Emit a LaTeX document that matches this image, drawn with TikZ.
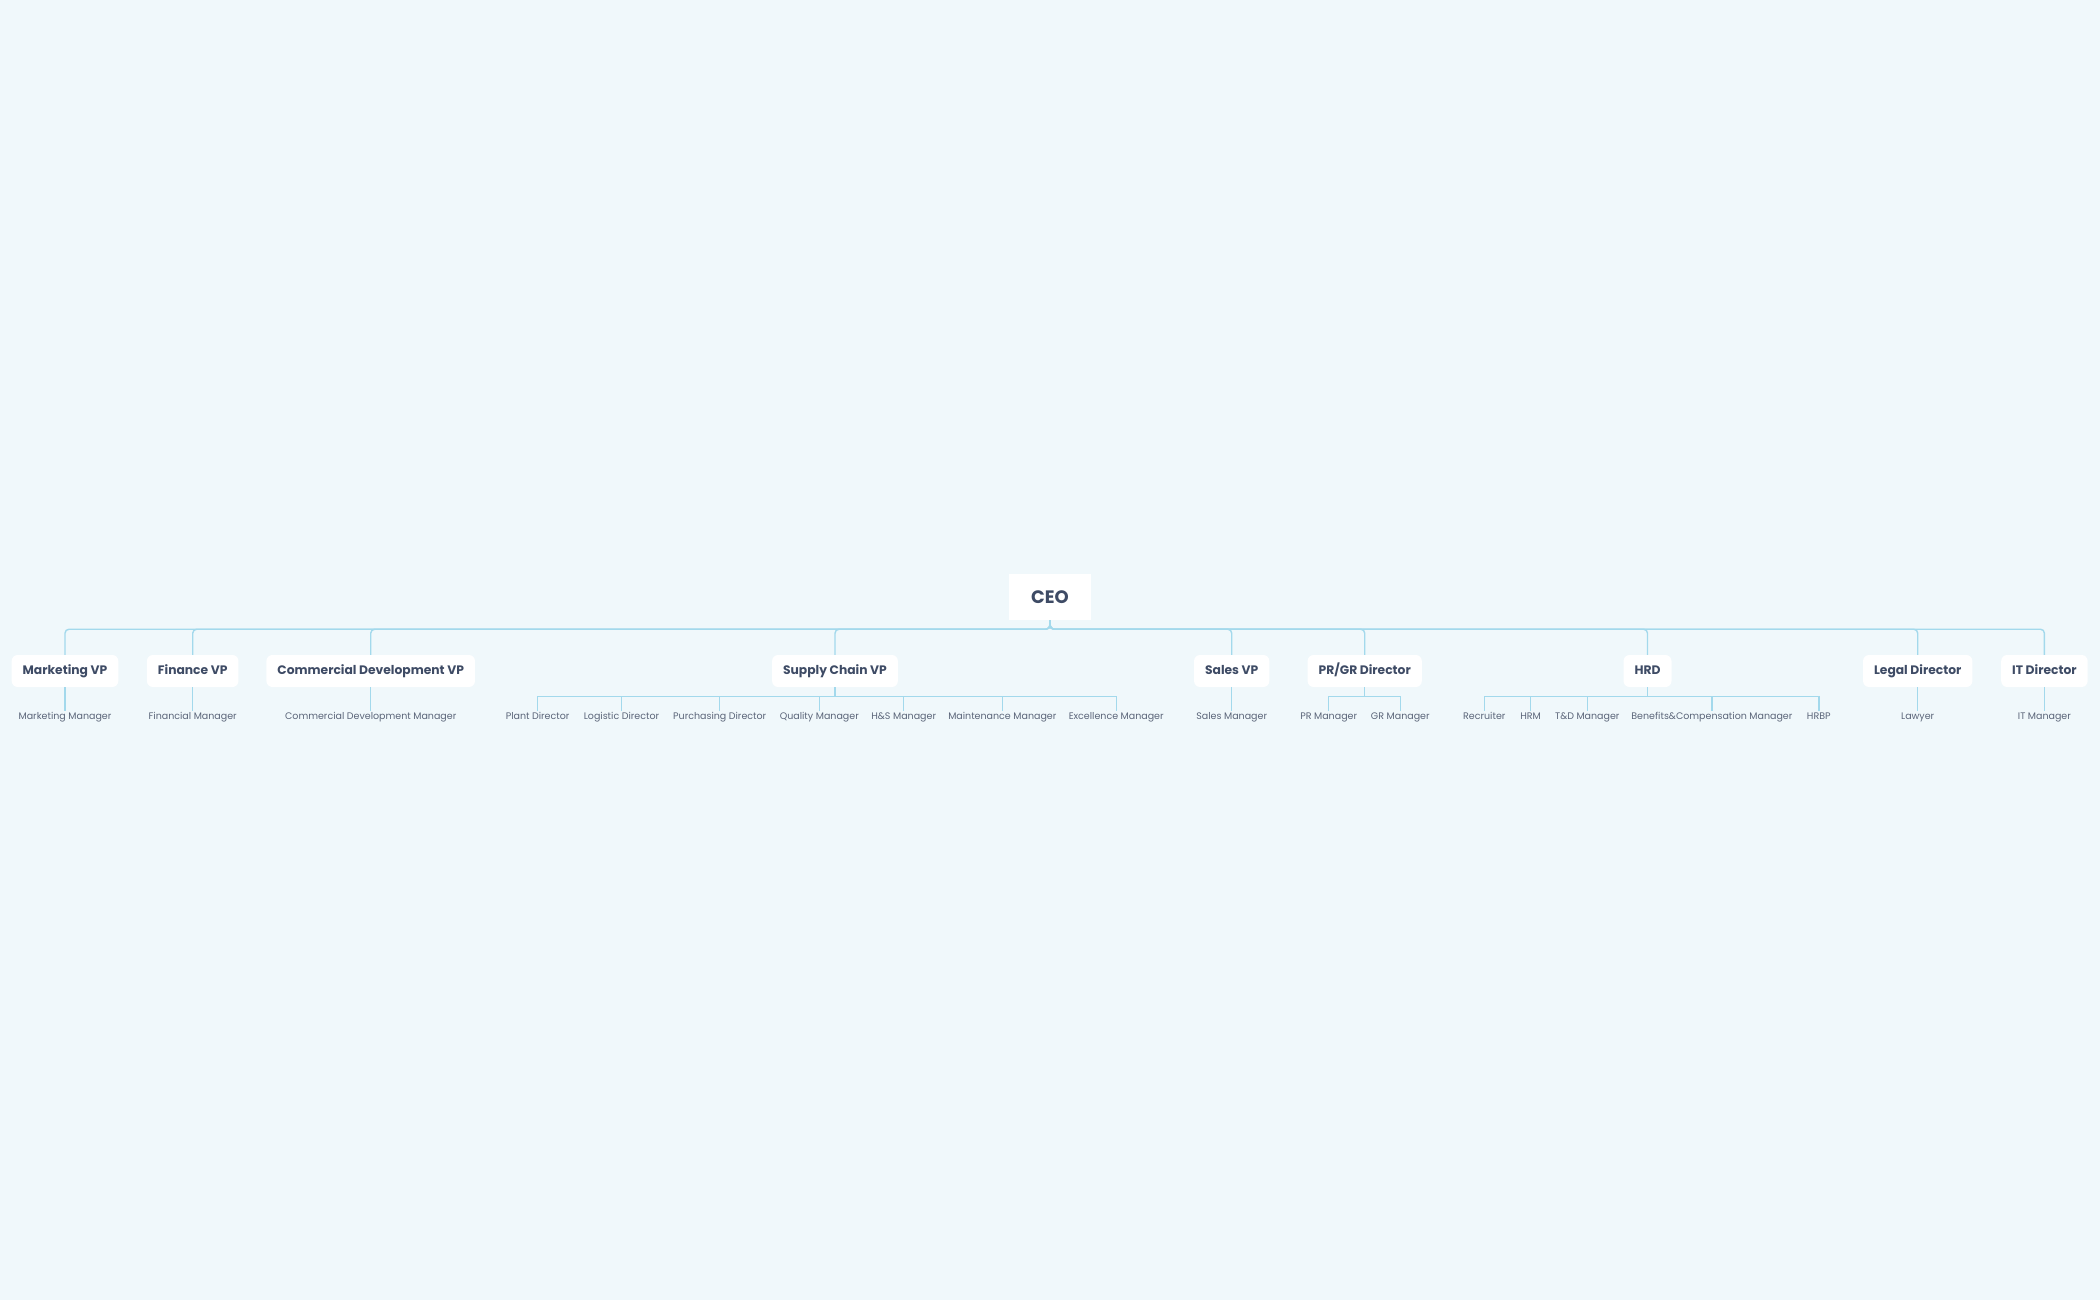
\documentclass[tikz,border=0pt]{standalone}
\usepackage{fontspec}
\setmainfont{Poppins}
\definecolor{bgcol}{HTML}{F0F8FB}
\definecolor{linkcol}{HTML}{A3D9EC}
\definecolor{headtext}{HTML}{3E4B65}
\definecolor{stafftext}{HTML}{5B6579}
\tikzset{
  ceobox/.style={fill=white, text=headtext, font=\fontsize{18}{20}\selectfont\bfseries,
    minimum width=82pt, minimum height=46pt, inner sep=0pt},
  headbox/.style={fill=white, text=headtext, rounded corners=6pt,
    font=\fontsize{12.3}{14}\selectfont\bfseries, text height=9pt, text depth=3pt,
    minimum height=32pt, inner xsep=11pt, inner ysep=0pt},
  staff/.style={text=stafftext, font=\fontsize{9.5}{10}\selectfont,
    text height=7pt, text depth=2pt, inner sep=1.5pt},
  link/.style={draw=linkcol, line width=1.4pt},
}
\begin{document}
\begin{tikzpicture}[x=1pt,y=-1pt]
\fill[bgcol] (0,0) rectangle (2100,1300);
\useasboundingbox (0,0) rectangle (2100,1300);

% top level
\node[ceobox] (ceo) at (1050,597) {CEO};

\node[headbox] (mkt) at (65,671) {Marketing VP};
\node[headbox] (fin) at (192.7,671) {Finance VP};
\node[headbox] (cd) at (370.7,671) {Commercial Development VP};
\node[headbox] (sc) at (835,671) {Supply Chain VP};
\node[headbox] (sales) at (1231.7,671) {Sales VP};
\node[headbox] (prgr) at (1364.7,671) {PR/GR Director};
\node[headbox] (hrd) at (1647.5,671) {HRD};
\node[headbox] (legal) at (1917.7,671) {Legal Director};
\node[headbox] (it) at (2044.4,671) {IT Director};

\foreach \h in {mkt,fin,cd,sc,sales,prgr,hrd,legal,it}
  \draw[link, rounded corners=4pt] (ceo.south) -- ++(0,9) -| (\h.north);

% staff
\node[staff] (mktm) at (65,717) {Marketing Manager};
\node[staff] (finm) at (192.7,717) {Financial Manager};
\node[staff] (cdm) at (370.7,717) {Commercial Development Manager};
\node[staff] (plant) at (537.6,717) {Plant Director};
\node[staff] (logi) at (621.5,717) {Logistic Director};
\node[staff] (purch) at (719.7,717) {Purchasing Director};
\node[staff] (qual) at (819.3,717) {Quality Manager};
\node[staff] (hs) at (903.7,717) {H\&S Manager};
\node[staff] (maint) at (1002.3,717) {Maintenance Manager};
\node[staff] (exc) at (1116.2,717) {Excellence Manager};
\node[staff] (salesm) at (1231.7,717) {Sales Manager};
\node[staff] (pr) at (1328.7,717) {PR Manager};
\node[staff] (gr) at (1400.3,717) {GR Manager};
\node[staff] (recr) at (1484.3,717) {Recruiter};
\node[staff] (hrm) at (1530.6,717) {HRM};
\node[staff] (td) at (1587.3,717) {T\&D Manager};
\node[staff] (ben) at (1711.9,717) {Benefits\&Compensation Manager};
\node[staff] (hrbp) at (1818.8,717) {HRBP};
\node[staff] (lawyer) at (1917.7,717) {Lawyer};
\node[staff] (itm) at (2044.4,717) {IT Manager};

\draw[link] (mkt.south) -- (mktm.north);
\draw[link] (fin.south) -- (finm.north);
\draw[link] (cd.south) -- (cdm.north);
\draw[link] (sales.south) -- (salesm.north);
\draw[link] (legal.south) -- (lawyer.north);
\draw[link] (it.south) -- (itm.north);

\foreach \s in {plant,logi,purch,qual,hs,maint,exc}
  \draw[link] (sc.south) -- ++(0,9) -| (\s.north);
\foreach \s in {pr,gr}
  \draw[link] (prgr.south) -- ++(0,9) -| (\s.north);
\foreach \s in {recr,hrm,td,ben,hrbp}
  \draw[link] (hrd.south) -- ++(0,9) -| (\s.north);
\end{tikzpicture}
\end{document}
